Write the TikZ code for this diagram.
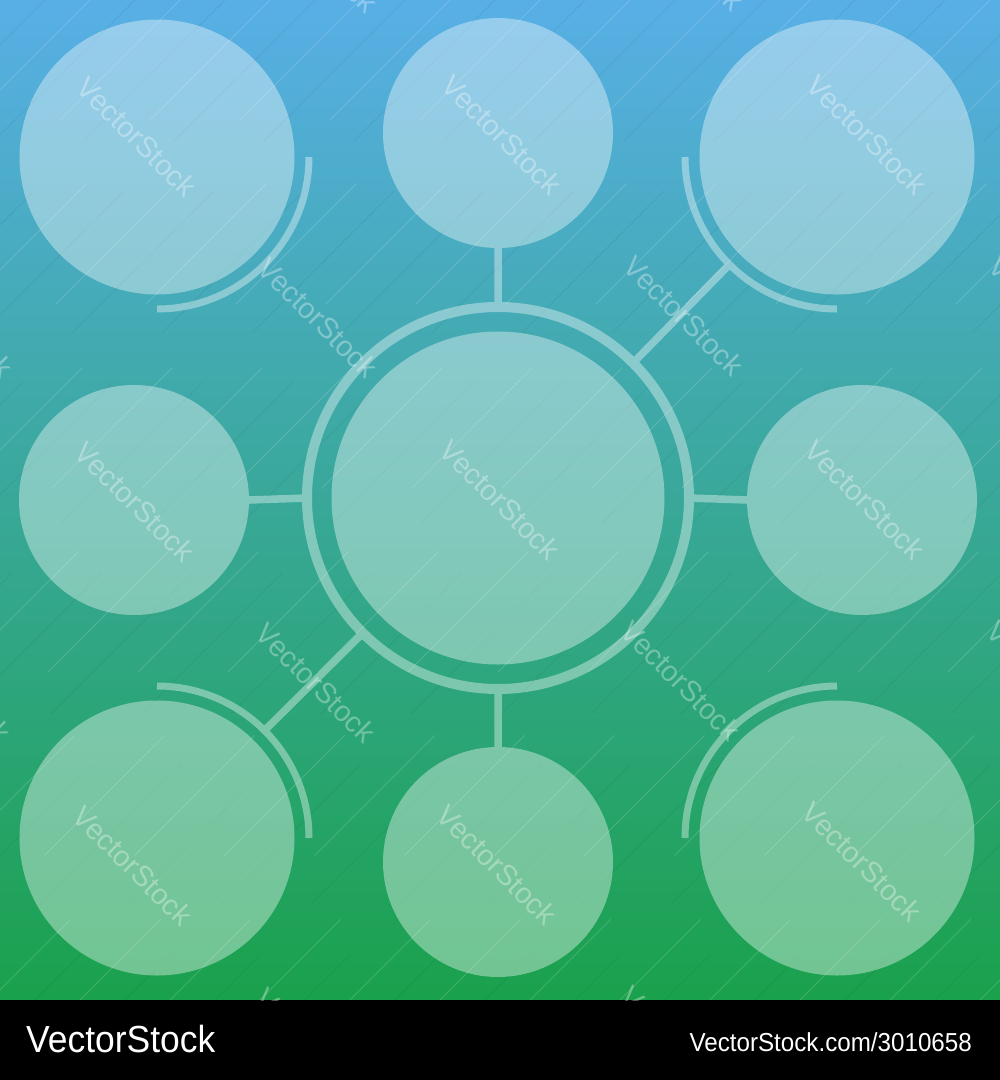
\documentclass[tikz,border=0pt]{standalone}
\usepackage{fontspec}
\setmainfont{Liberation Sans}
\usepackage{graphicx}
\usetikzlibrary{calc}
\definecolor{topc}{RGB}{88,175,230}
\definecolor{botc}{RGB}{26,161,76}
\tikzset{
  bubble/.style={circle, fill=white, draw=none, inner sep=0pt, outer sep=0pt},
  ringline/.style={circle, draw=white, line width=10pt, inner sep=0pt, outer sep=0pt, minimum size=382pt},
  link/.style={draw=white, line width=7.5pt},
  arcline/.style={draw=white, line width=7pt},
  wmark/.style={text=white, text opacity=0.33, inner sep=0pt, rotate=-45,
    font=\fontsize{29}{35}\selectfont},
  wline/.style={white, opacity=0.16, line width=1pt, dash pattern=on 170pt off 90pt},
  wdark/.style={black, opacity=0.06, line width=1pt, dash pattern=on 200pt off 70pt},
}
\begin{document}
\begin{tikzpicture}[x=1pt,y=-1pt]
\useasboundingbox (0,0) rectangle (1000,1080);
% background
\shade[top color=topc, bottom color=botc, middle color={rgb,255:red,57;green,168;blue,153}] (0,0) rectangle (1000,1000);
\fill[black] (0,1000) rectangle (1000,1080);

% faint watermark lines
\begin{scope}
\clip (0,0) rectangle (1000,1000);
\foreach \c in {0,90,...,2000} {
  \draw[wline] (\c,0) -- (\c-1000,1000);
}
\foreach \c in {45,135,...,2045} {
  \draw[wdark] (\c,0) -- (\c-1000,1000);
}
\end{scope}

% diagram
\begin{scope}[transparency group, opacity=0.38]
\node[bubble, minimum size=275pt] (tl) at (157,157) {};
\node[bubble, minimum size=230pt] (tm) at (498,133) {};
\node[bubble, minimum size=275pt] (tr) at (837,157) {};
\node[bubble, minimum size=230pt] (ml) at (134,500) {};
\node[bubble, minimum size=333pt] (ctr) at (498,498) {};
\node[bubble, minimum size=230pt] (mr) at (862,500) {};
\node[bubble, minimum size=275pt] (bl) at (157,838) {};
\node[bubble, minimum size=230pt] (bm) at (498,862) {};
\node[bubble, minimum size=275pt] (br) at (837,838) {};
\node[ringline] (ring) at (ctr.center) {};

% arcs beside the corner circles
\coordinate (tlA) at ($(tl.center)+(0:152)$);
\coordinate (trA) at ($(tr.center)+(90:152)$);
\coordinate (blA) at ($(bl.center)+(270:152)$);
\coordinate (brA) at ($(br.center)+(180:152)$);
\draw[arcline] (tlA) arc[start angle=0, end angle=90, radius=152];
\draw[arcline] (trA) arc[start angle=90, end angle=180, radius=152];
\draw[arcline] (blA) arc[start angle=270, end angle=360, radius=152];
\draw[arcline] (brA) arc[start angle=180, end angle=270, radius=152];

% connectors
\coordinate (trD) at ($(tr.center)+(135:152)$);
\coordinate (blD) at ($(bl.center)+(315:152)$);
\draw[link] (tm.south) -- (ring.north);
\draw[link] (bm.north) -- (ring.south);
\draw[link] (ml.east) -- (ring.west);
\draw[link] (mr.west) -- (ring.east);
\draw[link] (trD) -- (ring.45);
\draw[link] (blD) -- (ring.225);
\end{scope}

% watermark texts
\begin{scope}
\clip (0,0) rectangle (1000,1000);
\node[wmark] (w1) at (137,137) {VectorStock};
\node[wmark] (w2) at (502,135) {VectorStock};
\node[wmark] (w3) at (867,135) {VectorStock};
\node[wmark] (w4) at (135,502) {VectorStock};
\node[wmark] (w5) at (500,500) {VectorStock};
\node[wmark] (w6) at (865,500) {VectorStock};
\node[wmark] (w7) at (133,866) {VectorStock};
\node[wmark] (w8) at (497,865) {VectorStock};
\node[wmark] (w9) at (862,862) {VectorStock};
\node[wmark] (w10) at (318,318) {VectorStock};
\node[wmark] (w11) at (684,316) {VectorStock};
\node[wmark] (w12) at (316,683) {VectorStock};
\node[wmark] (w13) at (681,681) {VectorStock};
\node[wmark] (w14) at (318,-47) {VectorStock};
\node[wmark] (w15) at (684,-49) {VectorStock};
\node[wmark] (w16) at (-47,318) {VectorStock};
\node[wmark] (w17) at (-49,683) {VectorStock};
\node[wmark] (w18) at (1049,316) {VectorStock};
\node[wmark] (w19) at (1047,681) {VectorStock};
\node[wmark] (w20) at (316,1048) {VectorStock};
\node[wmark] (w21) at (681,1046) {VectorStock};
\end{scope}

% footer
\node[anchor=base west, inner sep=0pt, text=white] (logo) at (26,1052)
  {\scalebox{0.94}[1]{\fontsize{37.7}{40}\selectfont VectorStock}};
\node[anchor=base east, inner sep=0pt, text=white] (url) at (972,1051)
  {\scalebox{0.93}[1]{\fontsize{26}{30}\selectfont VectorStock.com/3010658}};
\end{tikzpicture}
\end{document}
